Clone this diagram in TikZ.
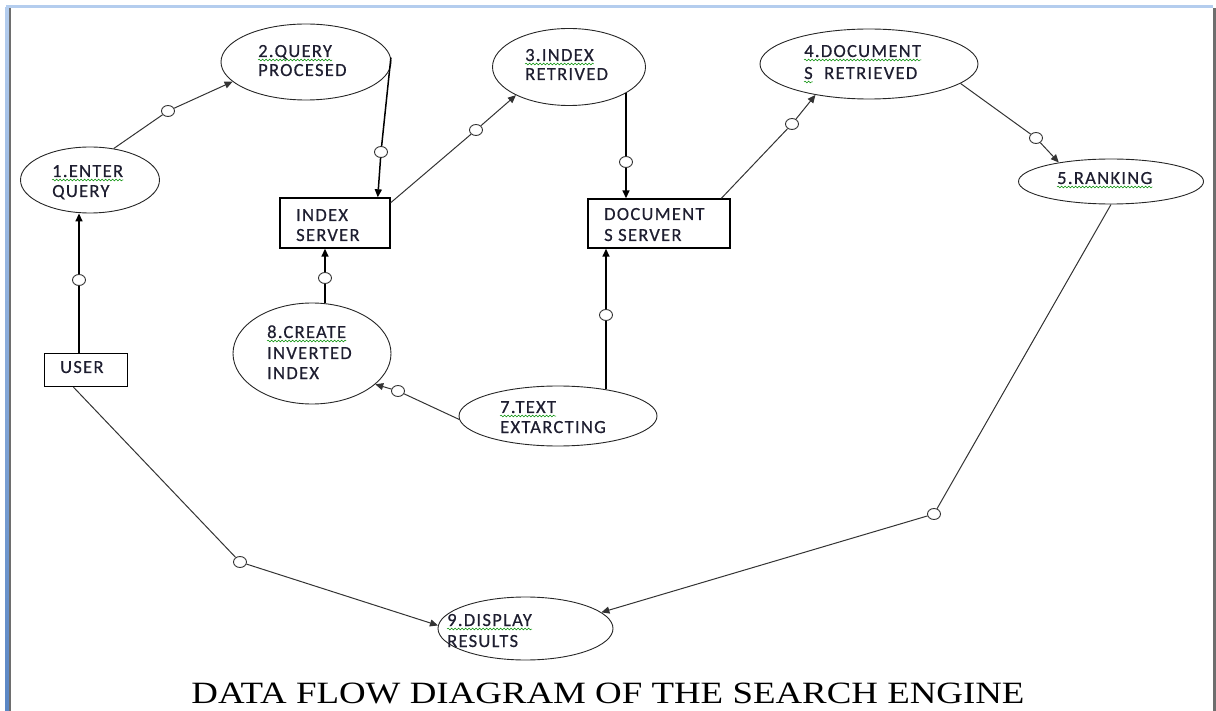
\documentclass[tikz,border=0pt]{standalone}
\usepackage{fontspec}
\setmainfont{Liberation Serif}
\newfontfamily\lblfont[LetterSpace=7,FakeBold=0.5]{Carlito}
\usetikzlibrary{arrows.meta,shapes.geometric,decorations.pathmorphing}
\definecolor{txt}{HTML}{1E1E30}
\definecolor{bandtop}{HTML}{B4CDEE}
\definecolor{bandleft}{HTML}{5A86C4}
\definecolor{edgegray}{HTML}{6E6E6E}
\begin{document}
\begin{tikzpicture}[x=1pt,y=-1pt,
  proc/.style={draw=black!85,line width=0.9pt,ellipse,inner sep=0pt},
  ent/.style={draw=black,line width=1.4pt,rectangle,inner sep=0pt},
  lbl/.style={anchor=base west,inner sep=0pt,text=txt,font=\lblfont\fontsize{18.5}{20}\selectfont},
  dot/.style={draw=black!80,fill=white,ellipse,minimum width=13pt,minimum height=11pt,inner sep=0pt,line width=0.9pt},
  flowv/.style={line width=1.5pt,black},
  flowd/.style={line width=1pt,black!80},
  tip/.style={-{Triangle[length=8pt,width=7pt]}},
  squig/.style={draw=green!55!black,line width=0.5pt,decorate,decoration={snake,amplitude=0.9pt,segment length=3.5pt}}
]
\useasboundingbox (0,0) rectangle (1216,711);
% window frame
\fill[bandtop] (6,5) rectangle (1213,8);
\shade[top color=bandtop,bottom color=bandleft] (5,8) rectangle (9,711);
\fill[edgegray] (9,8) rectangle (11,711);
\fill[edgegray] (1213,8) rectangle (1216,711);

% processes
\node[proc,minimum width=139pt,minimum height=66pt] (p1) at (90,180) {};
\node[proc,minimum width=170pt,minimum height=76pt] (p2) at (306,62) {};
\node[proc,minimum width=153pt,minimum height=77pt] (p3) at (569,67) {};
\node[proc,minimum width=218pt,minimum height=70pt] (p4) at (869,64) {};
\node[proc,minimum width=185pt,minimum height=45pt] (p5) at (1111,181.5) {};
\node[proc,minimum width=198pt,minimum height=60pt] (p7) at (558,416) {};
\node[proc,minimum width=158pt,minimum height=101pt] (p8) at (312,353.5) {};
\node[proc,minimum width=175pt,minimum height=63pt] (p9) at (525.5,628.5) {};
% entities
\node[ent,minimum width=83pt,minimum height=33pt] (user) at (86,370) {};
\node[ent,minimum width=110pt,minimum height=50pt] (idx) at (335,223) {};
\node[ent,minimum width=142pt,minimum height=49pt] (doc) at (659,223.5) {};

% labels
\node[lbl] (t1a) at (52,177) {1.ENTER};
\node[lbl] (t1b) at (52,197) {QUERY};
\node[lbl] (t2a) at (258,57) {2.QUERY};
\node[lbl] (t2b) at (258,76) {PROCESED};
\node[lbl] (t3a) at (525,61) {3.INDEX};
\node[lbl] (t3b) at (525,80) {RETRIVED};
\node[lbl] (t4a) at (804,57) {4.DOCUMENT};
\node[lbl] (t4b) at (804,79) {S};
\node[lbl] (t4c) at (824,79) {RETRIEVED};
\node[lbl] (t5a) at (1057,184) {5.RANKING};
\node[lbl] (t7a) at (500,413) {7.TEXT};
\node[lbl] (t7b) at (500,433) {EXTARCTING};
\node[lbl] (t8a) at (267,338) {8.CREATE};
\node[lbl] (t8b) at (267,359) {INVERTED};
\node[lbl] (t8c) at (267,379) {INDEX};
\node[lbl] (t9a) at (447,626) {9.DISPLAY};
\node[lbl] (t9b) at (447,647) {RESULTS};
\node[lbl] (tu) at (60,373) {USER};
\node[lbl] (ti1) at (296,221) {INDEX};
\node[lbl] (ti2) at (296,241) {SERVER};
\node[lbl] (td1) at (604,220) {DOCUMENT};
\node[lbl] (td2) at (604,241) {S SERVER};

% spell-check squiggles
\foreach \t in {t1a,t2a,t3a,t4a,t4b,t5a,t7a,t8a,t9a}
  \draw[squig] ([yshift=-3pt]\t.base west) -- ([yshift=-3pt]\t.base east);

% data-flow markers
\node[dot] (c1) at (79,280) {};
\node[dot] (c2) at (168,111) {};
\node[dot] (c3) at (381,152) {};
\node[dot] (c4) at (476,130) {};
\node[dot] (c5) at (626,162) {};
\node[dot] (c6) at (792,124) {};
\node[dot] (c7) at (1036,138) {};
\node[dot] (c8) at (934,514) {};
\node[dot] (c9) at (240,562) {};
\node[dot] (c10) at (325,278) {};
\node[dot] (c11) at (398,391) {};
\node[dot] (c12) at (606,315) {};

% connectors
\draw[flowv] (c1 |- user.north) -- (c1);
\draw[flowv,tip] (c1) -- (c1 |- p1.south);

\draw[flowd] (p1.53) -- (c2);
\draw[flowd,tip] (c2) -- (p2.195);

\draw[flowv] (p2.3) -- (c3);
\draw[flowv,tip] (c3) -- (idx.31);

\draw[flowd] (idx.20) -- (c4);
\draw[flowd,tip] (c4) -- (p3.208);

\draw[flowv] (c5 |- p3.-24) -- (c5);
\draw[flowv,tip] (c5) -- (c5 |- doc.north);

\draw[flowd] (doc.22) -- (c6);
\draw[flowd,tip] (c6) -- (p4.210);

\draw[flowd] (p4.-12) -- (c7);
\draw[flowd,tip] (c7) -- (p5.160);

\draw[flowd] (p5.south) -- (c8);
\draw[flowd,tip] (c8) -- (p9.12);

\draw[flowd] (user.234) -- (c9);
\draw[flowd,tip] (c9) -- (p9.178);

\draw[flowv] (c10 |- p8.north) -- (c10);
\draw[flowv,tip] (c10) -- (c10 |- idx.south);

\draw[flowd] (p7.182) -- (c11);
\draw[flowd,tip] (c11) -- (p8.-26);

\draw[flowv] (c12 |- p7.29) -- (c12);
\draw[flowv,tip] (c12) -- (c12 |- doc.south);

% title
\node[anchor=base,inner sep=0pt,font=\fontsize{31}{36}\selectfont,xscale=1.19] (title) at (608,703) {DATA FLOW DIAGRAM OF THE SEARCH ENGINE};
\end{tikzpicture}
\end{document}
